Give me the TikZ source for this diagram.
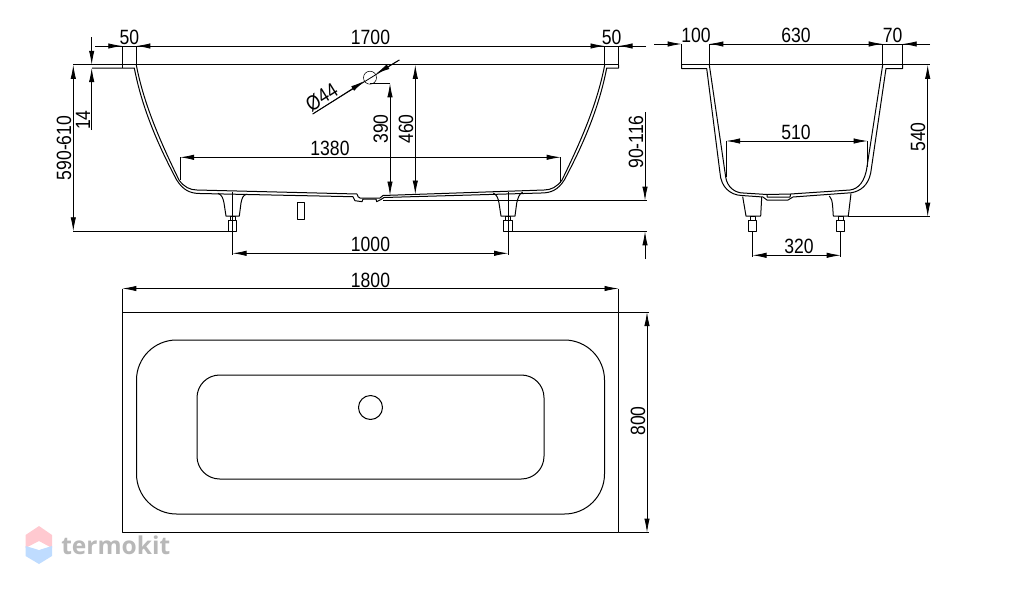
\documentclass[tikz,border=0pt]{standalone}
\usepackage{fontspec}
\setmainfont[FakeStretch=0.85]{Liberation Sans}
\newfontfamily\brandfont{Open Sans}
\usetikzlibrary{arrows.meta}
\definecolor{brandpink}{HTML}{FFC9D0}
\definecolor{brandblue}{HTML}{BFDCFF}
\definecolor{brandgrey}{HTML}{B8B8B8}
\tikzset{
  dimline/.style={line width=0.6pt},
  dimboth/.style={dimline, {Latex[length=10.5pt,width=4pt]}-{Latex[length=10.5pt,width=4pt]}},
  dimend/.style={dimline, -{Latex[length=10.5pt,width=4pt]}},
  shell/.style={line width=0.75pt, line join=round},
  dimtext/.style={font=\fontsize{15.5}{15.5}\selectfont, inner sep=0pt},
}
\begin{document}
\begin{tikzpicture}[x=0.75pt,y=-0.75pt]
  \useasboundingbox (0,0) rectangle (1022,590);

  % side view, shell
  \draw[shell] (92,68) -- (134.3,68) .. controls (142,108) and (158,145) .. (176.7,180) .. controls (183,190) and (190,193.5) .. (200,193.5) -- (353,196.7);
  \draw[shell] (136.3,65) .. controls (144,105) and (161,143) .. (179,180) .. controls (184,187) and (190,190) .. (197,190) -- (357,194);
  \draw[shell] (618.5,65) -- (618.5,68) -- (606.7,68) .. controls (599,108) and (583,145) .. (564.3,180) .. controls (558,190) and (551,193) .. (541,193) -- (384,197.5);
  \draw[shell] (604.7,65) .. controls (597,105) and (580,143) .. (562,180) .. controls (557,187) and (551,190) .. (544,190) -- (383,195.5);
  \draw[shell] (353,196.7) .. controls (354,199) .. (355,200.7) -- (362,201.7) -- (363,199) -- (376,199) -- (376.7,201.7) -- (381,199.5) -- (384,197.5);
  \draw[shell] (357,194) .. controls (358,197) .. (360,198) -- (380,198) .. controls (381,197) .. (383,195.5);

  % side view, feet
  \draw[shell] (218,193.3) .. controls (222,195) and (223,198) .. (224,203) -- (226,216) -- (239.3,216) -- (241,203) .. controls (242,198) and (243,195) .. (246.7,194.3);
  \draw[shell] (493.3,193) .. controls (497,195) and (498,198) .. (499,203) -- (501,216) -- (515,216) -- (516.7,203) .. controls (518,198) and (519,194) .. (522.7,192);
  \foreach \footx in {232.5,508.2}{
    \draw[shell] (\footx-2.5,216) rectangle (\footx+2.5,220.7);
    \draw[shell] (\footx-4.3,220.7) rectangle (\footx+4.3,231.3);
    \draw[dimline] (\footx,191.7) -- (\footx,255);
  }
  \draw[shell] (297.3,202.3) rectangle (304,219.3);

  % side view, extension lines
  \draw[dimline] (73,64.8) -- (618.5,64.8);
  \draw[dimline] (122.3,46) -- (122.3,68);
  \draw[dimline] (136.3,46) -- (136.3,65);
  \draw[dimline] (604.5,46) -- (604.5,65);
  \draw[dimline] (618.5,46) -- (618.5,65);
  \draw[dimline] (73,231.3) -- (232.5,231.3);
  \draw[dimline] (508.2,231.3) -- (647,231.3);
  \draw[dimline] (383,200.7) -- (647,200.7);
  \draw[dimline] (180,157.3) -- (180,180);
  \draw[dimline] (560.7,157.3) -- (560.7,183);
  \draw[dimline] (370,83.3) -- (390,83.3);

  % side view, dimensions
  \draw[dimline] (95,46) -- (646,46);
  \draw[dimend] (95,46) -- (122.3,46);
  \draw[dimend] (164,46) -- (136.3,46);
  \draw[dimend] (577,46) -- (604.5,46);
  \draw[dimend] (646,46) -- (618.5,46);
  \draw[dimend] (91.7,37) -- (91.7,64.8);
  \draw[dimend] (91.7,130) -- (91.7,68);
  \draw[dimboth] (73.3,64.8) -- (73.3,231.3);
  \draw[dimboth] (180,157.3) -- (560.7,157.3);
  \draw[dimboth] (232.5,253.3) -- (508.2,253.3);
  \draw[dimboth] (390,83.3) -- (390,195.5);
  \draw[dimboth] (415.3,64.8) -- (415.3,194.5);
  \draw[dimend] (645,112) -- (645,200.7);
  \draw[dimend] (645,259) -- (645,231.3);
  \draw (370,77.7) circle (6.5);
  \draw[dimline] (312.7,114) -- (399.3,60);
  \draw[dimend] (312.7,114) -- (364.5,81);
  \draw[dimend] (399.3,60) -- (376,73.8);

  \node[dimtext] (width50l) at (129.3,37) {50};
  \node[dimtext] (width1700) at (370.5,37) {1700};
  \node[dimtext] (width50r) at (611.7,37) {50};
  \node[dimtext,rotate=90] (height14) at (83,120) {14};
  \node[dimtext,rotate=90] (height590) at (64,148) {590-610};
  \node[dimtext] (width1380) at (330,148) {1380};
  \node[dimtext] (width1000) at (370.5,244) {1000};
  \node[dimtext,rotate=90] (height390) at (380.7,129) {390};
  \node[dimtext,rotate=90] (height460) at (406,129) {460};
  \node[dimtext,rotate=90] (height90) at (636,142) {90-116};
  \node[dimtext,rotate=32] (drain44) at (321.7,97.3) {Ø44};

  % end view, shell
  \draw[shell] (681.7,64.8) -- (681.7,68.5) -- (706.7,68.5) -- (720,173) .. controls (721,187) and (730,195) .. (741.7,195.5) -- (763,197) -- (767,200) -- (788,200) -- (793,197) -- (851.7,192.7) .. controls (860,191) and (868,186) .. (870.7,173) -- (886,68.5) -- (902.7,68.5) -- (902.7,64.8);
  \draw[shell] (709.3,64.8) -- (725.7,177) .. controls (727,187) and (735,193) .. (743.3,193) -- (767,194.5) -- (790.7,194) -- (850,190) .. controls (858,189) and (865,182) .. (867,166.7) -- (882.7,64.8);
  \draw[shell] (767,194.5) -- (767,197) -- (790,197) -- (790.7,194);

  % end view, feet
  \draw[shell] (742.7,196.7) -- (746,216) -- (760.7,216) -- (761.7,197);
  \draw[shell] (829.3,196) .. controls (832,200) .. (832.7,207) -- (833.3,216) -- (848.3,216) -- (851,193.5);
  \foreach \footx in {752.5,840.7}{
    \draw[shell] (\footx-2.5,216) rectangle (\footx+2.5,220.7);
    \draw[shell] (\footx-4.2,220.7) rectangle (\footx+4.2,231.3);
    \draw[dimline] (\footx,231.3) -- (\footx,257);
  }

  % end view, dimensions
  \draw[dimline] (681.7,44) -- (681.7,64.8);
  \draw[dimline] (709.3,44) -- (709.3,64.8);
  \draw[dimline] (882.7,44) -- (882.7,64.8);
  \draw[dimline] (902.7,44) -- (902.7,64.8);
  \draw[dimline] (681.7,64.8) -- (930,64.8);
  \draw[dimline] (848,216.7) -- (930,216.7);
  \draw[dimline] (726,141) -- (726,177);
  \draw[dimline] (867.7,141) -- (867.7,167);
  \draw[dimend] (654,44) -- (681.7,44);
  \draw[dimline] (709.3,44) -- (930,44);
  \draw[dimend] (737,44) -- (709.3,44);
  \draw[dimend] (855,44) -- (882.7,44);
  \draw[dimend] (930,44) -- (902.7,44);
  \draw[dimboth] (927.7,64.8) -- (927.7,216.7);
  \draw[dimboth] (726,141) -- (867.7,141);
  \draw[dimboth] (752.5,255.3) -- (840.7,255.3);

  \node[dimtext] (end100) at (696,35) {100};
  \node[dimtext] (end630) at (796,35) {630};
  \node[dimtext] (end70) at (892.7,35) {70};
  \node[dimtext] (end510) at (796,132) {510};
  \node[dimtext] (end320) at (799,246) {320};
  \node[dimtext,rotate=90] (end540) at (918,137) {540};

  % plan view
  \draw[shell] (122.3,312) rectangle (618.5,532.6);
  \draw[shell,rounded corners=30] (136.5,340) rectangle (604.5,514);
  \draw[shell,rounded corners=17] (197,375) rectangle (544,479);
  \draw[shell] (370.5,407.5) circle (12);
  \draw[dimline] (122.3,288.5) -- (122.3,312);
  \draw[dimline] (618.5,288.5) -- (618.5,312);
  \draw[dimline] (618.5,312) -- (649,312);
  \draw[dimline] (618.5,532.6) -- (649,532.6);
  \draw[dimboth] (122.3,288.5) -- (618.5,288.5);
  \draw[dimboth] (647,312) -- (647,532.6);
  \node[dimtext] (plan1800) at (370.5,280) {1800};
  \node[dimtext,rotate=90] (plan800) at (638,421) {800};

  % watermark
  \fill[brandpink] (39,526) -- (52,535) -- (52,548) -- (39,541) -- (25.5,548) -- (25.5,535) -- cycle;
  \fill[brandblue] (39,564) -- (52,556) -- (52,546) -- (39,550) -- (25.5,546) -- (25.5,556) -- cycle;
  \fill[white] (33,546) -- (39,542) -- (45,546) -- (39,550) -- cycle;
  \node[font=\brandfont\bfseries\fontsize{18.4}{18.4}\selectfont, text=brandgrey, inner sep=0pt, anchor=west] (brand) at (61,545) {termokit};
\end{tikzpicture}
\end{document}
